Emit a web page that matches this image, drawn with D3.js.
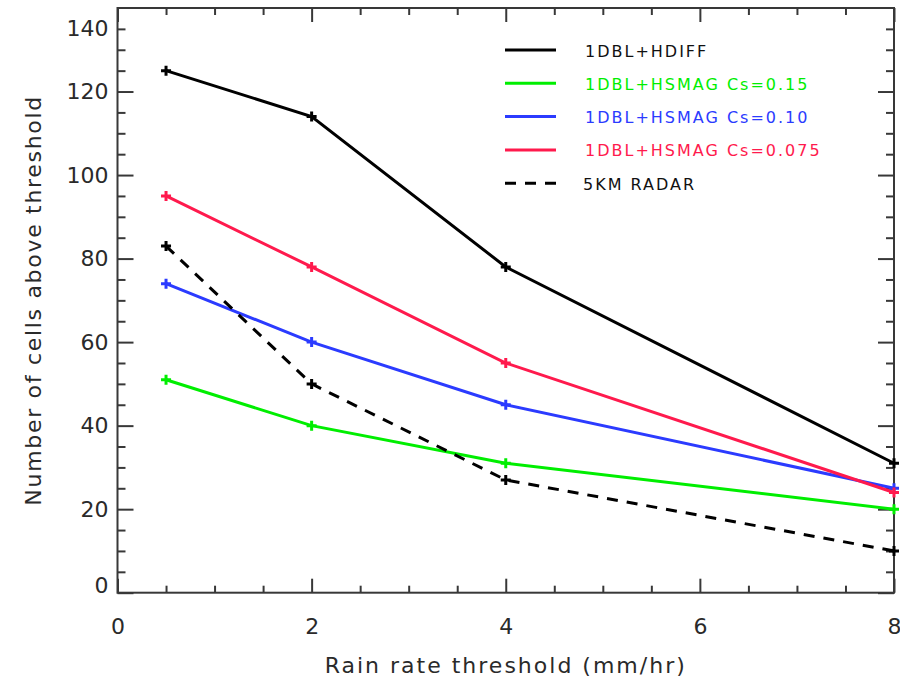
<!DOCTYPE html>
<html>
<head>
<meta charset="utf-8">
<script src="https://cdn.jsdelivr.net/npm/d3@7"></script>
<style>
  html, body { margin: 0; padding: 0; background: #fff; }
  svg { display: block; }
  text { font-family: "DejaVu Sans", sans-serif; }
</style>
</head>
<body>
<svg id="chart" width="900" height="683"></svg>
<script>
// ---------------- data ----------------
const thresholds = [0.5, 2, 4, 8];
const hdiff      = [125, 114, 78, 31];
const hsmag015   = [51, 40, 31, 20];
const hsmag010   = [74, 60, 45, 25];
const hsmag0075  = [95, 78, 55, 24];
const radar5km   = [83, 50, 27, 10];

const seriesNames  = ["1DBL+HDIFF", "1DBL+HSMAG Cs=0.15", "1DBL+HSMAG Cs=0.10", "1DBL+HSMAG Cs=0.075", "5KM RADAR"];
const seriesColors = ["#000000", "#00ee00", "#2b3bff", "#ff1a4d", "#000000"];
const seriesDashed = [false, false, false, false, true];
const seriesValues = [hdiff, hsmag015, hsmag010, hsmag0075, radar5km];

const xMajorTicks = [0, 2, 4, 6, 8];
const xMinorTicks = [0.5, 1, 1.5, 2.5, 3, 3.5, 4.5, 5, 5.5, 6.5, 7, 7.5];
const yMajorTicks = [0, 20, 40, 60, 80, 100, 120];
const yMinorTicks = [5, 10, 15, 25, 30, 35, 45, 50, 55, 65, 70, 75, 85, 90, 95, 105, 110, 115, 125, 130, 135];
const yTopLabel = "140";
const yTopLabelAt = 135;

const xTitle = "Rain rate threshold (mm/hr)";
const yTitle = "Number of cells above threshold";

// ---------------- layout ----------------
const L = 117.5, R = 894, T = 8, B = 592.7;
const svg = d3.select("#chart");
const x = d3.scaleLinear().domain([0, 8]).range([L, R]);
const y = d3.scaleLinear().domain([0, 140]).range([B, T]);

const axisColor = "#383838";
function styleAxis(g) {
  g.select(".domain").remove();
  g.selectAll("line").attr("stroke", axisColor).attr("stroke-width", 2);
  g.selectAll("text").attr("fill", "#2a2a2a").style("font-size", "22px")
    .style("font-family", "'DejaVu Sans', sans-serif");
}

// frame
svg.append("rect").attr("x", L).attr("y", T).attr("width", R - L).attr("height", B - T)
  .attr("fill", "none").attr("stroke", axisColor).attr("stroke-width", 2);

// bottom axis
svg.append("g").attr("transform", `translate(0,${B})`)
  .call(d3.axisBottom(x).tickValues(xMajorTicks).tickSizeInner(-14).tickSizeOuter(0)
        .tickPadding(26).tickFormat(d3.format("d")))
  .call(styleAxis);
svg.append("g").attr("transform", `translate(0,${B})`)
  .call(d3.axisBottom(x).tickValues(xMinorTicks).tickSizeInner(-7).tickSizeOuter(0).tickFormat(""))
  .call(styleAxis);
// top axis (mirror)
svg.append("g").attr("transform", `translate(0,${T})`)
  .call(d3.axisTop(x).tickValues(xMajorTicks).tickSizeInner(-14).tickSizeOuter(0).tickFormat(""))
  .call(styleAxis);
svg.append("g").attr("transform", `translate(0,${T})`)
  .call(d3.axisTop(x).tickValues(xMinorTicks).tickSizeInner(-7).tickSizeOuter(0).tickFormat(""))
  .call(styleAxis);

// left axis
const yl = svg.append("g").attr("transform", `translate(${L},0)`)
  .call(d3.axisLeft(y).tickValues(yMajorTicks).tickSizeInner(-16).tickSizeOuter(0)
        .tickPadding(9).tickFormat(d3.format("d")))
  .call(styleAxis);
yl.selectAll(".tick").filter(d => d === 0).select("text").attr("dy", "0.0em");
svg.append("g").attr("transform", `translate(${L},0)`)
  .call(d3.axisLeft(y).tickValues(yMinorTicks).tickSizeInner(-8).tickSizeOuter(0).tickFormat(""))
  .call(styleAxis);
svg.append("text").attr("x", L - 9).attr("y", y(yTopLabelAt)).attr("dy", "0.32em")
  .attr("text-anchor", "end").attr("fill", "#2a2a2a").style("font-size", "22px").text(yTopLabel);
// right axis (mirror)
svg.append("g").attr("transform", `translate(${R},0)`)
  .call(d3.axisRight(y).tickValues(yMajorTicks).tickSizeInner(-16).tickSizeOuter(0).tickFormat(""))
  .call(styleAxis);
svg.append("g").attr("transform", `translate(${R},0)`)
  .call(d3.axisRight(y).tickValues(yMinorTicks).tickSizeInner(-8).tickSizeOuter(0).tickFormat(""))
  .call(styleAxis);

// axis titles
svg.append("text").attr("x", (L + R) / 2 + 0).attr("y", 673)
  .attr("text-anchor", "middle").attr("fill", "#2a2a2a")
  .style("font-size", "22px").style("letter-spacing", "2px").text(xTitle);
svg.append("text").attr("transform", `translate(41,${(T + B) / 2}) rotate(-90)`)
  .attr("text-anchor", "middle").attr("fill", "#2a2a2a")
  .style("font-size", "22px").style("letter-spacing", "1.7px").text(yTitle);

// series
const line = d3.line().x(d => x(d[0])).y(d => y(d[1]));
seriesValues.forEach((vals, i) => {
  const pts = thresholds.map((t, j) => [t, vals[j]]);
  svg.append("path").datum(pts).attr("d", line)
    .attr("fill", "none").attr("stroke", seriesColors[i]).attr("stroke-width", 3)
    .attr("stroke-dasharray", seriesDashed[i] ? "11,9" : null);
  const m = svg.append("g");
  pts.forEach(p => {
    const cx = x(p[0]), cy = y(p[1]);
    m.append("path").attr("d", `M${cx - 5},${cy}H${cx + 5}M${cx},${cy - 5}V${cy + 5}`)
      .attr("stroke", seriesColors[i]).attr("stroke-width", 3).attr("fill", "none");
  });
});

// legend
const legend = svg.append("g");
seriesNames.forEach((name, i) => {
  const ly = 50 + i * 33.3;
  legend.append("line").attr("x1", 505).attr("x2", 556).attr("y1", ly).attr("y2", ly)
    .attr("stroke", seriesColors[i]).attr("stroke-width", 3)
    .attr("stroke-dasharray", seriesDashed[i] ? "11,9" : null);
  legend.append("text").attr("x", i === 4 ? 583 : 585).attr("y", ly + 6.5)
    .attr("fill", seriesColors[i] === "#000000" ? "#111" : seriesColors[i])
    .style("font-size", "16px").style("letter-spacing", "2px").text(name);
});
</script>
</body>
</html>
